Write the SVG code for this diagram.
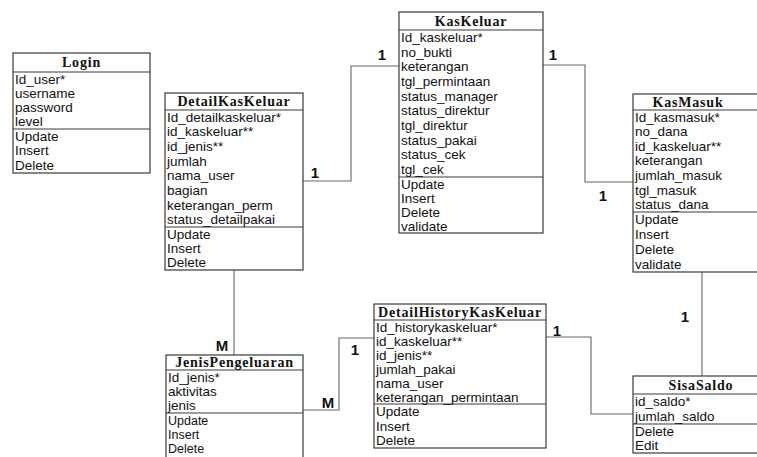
<svg xmlns="http://www.w3.org/2000/svg" width="757" height="457" viewBox="0 0 757 457">
<style>
.box{fill:#fff;stroke:#3a3a3a;stroke-width:1.2}
.sep{stroke:#3a3a3a;stroke-width:1.1}
.t{font-family:"Liberation Serif","Times New Roman",serif;font-weight:bold;font-size:14px;letter-spacing:0.8px;fill:#111;text-anchor:middle}
.a{font-family:"Liberation Sans",Arial,sans-serif;font-size:13.5px;fill:#111}
.s{font-size:12.5px}
.c{fill:none;stroke:#666;stroke-width:1.1}
.l{font-family:"Liberation Sans",Arial,sans-serif;font-size:15px;font-weight:bold;fill:#111;text-anchor:middle}
</style>
<rect width="757" height="457" fill="#fff"/>
<g id="connectors">
<polyline class="c" points="303,181 351,181 351,66 399,66"/>
<polyline class="c" points="543,65 585,65 585,182 633,182"/>
<polyline class="c" points="702,272 702,376"/>
<polyline class="c" points="546,337 591,337 591,414 633,414"/>
<polyline class="c" points="303,410 339,410 339,338 374,338"/>
<polyline class="c" points="234,270 234,355"/>
<text class="l" x="315" y="178">1</text>
<text class="l" x="382" y="60">1</text>
<text class="l" x="553" y="60">1</text>
<text class="l" x="603" y="201">1</text>
<text class="l" x="685" y="322">1</text>
<text class="l" x="557" y="336">1</text>
<text class="l" x="355" y="355">1</text>
<text class="l" x="328" y="408">M</text>
<text class="l" x="222" y="351">M</text>
</g>
<g id="Login">
<rect class="box" x="13" y="53" width="137" height="120"/>
<line class="sep" x1="13" y1="72" x2="150" y2="72"/>
<line class="sep" x1="13" y1="129" x2="150" y2="129"/>
<text class="t" x="81.5" y="67">Login</text>
<text class="a" x="15" y="84">Id_user*</text>
<text class="a" x="15" y="98">username</text>
<text class="a" x="15" y="112">password</text>
<text class="a" x="15" y="126">level</text>
<text class="a" x="15" y="141">Update</text>
<text class="a" x="15" y="155">Insert</text>
<text class="a" x="15" y="170">Delete</text>
</g>
<g id="DetailKasKeluar">
<rect class="box" x="165" y="93" width="138" height="177"/>
<line class="sep" x1="165" y1="110" x2="303" y2="110"/>
<line class="sep" x1="165" y1="227" x2="303" y2="227"/>
<text class="t" x="234" y="106">DetailKasKeluar</text>
<text class="a" x="167" y="122">Id_detailkaskeluar*</text>
<text class="a" x="167" y="136">id_kaskeluar**</text>
<text class="a" x="167" y="151">id_jenis**</text>
<text class="a" x="167" y="166">jumlah</text>
<text class="a" x="167" y="180">nama_user</text>
<text class="a" x="167" y="195">bagian</text>
<text class="a" x="167" y="210">keterangan_perm</text>
<text class="a" x="167" y="224">status_detailpakai</text>
<text class="a" x="167" y="239">Update</text>
<text class="a" x="167" y="253">Insert</text>
<text class="a" x="167" y="267">Delete</text>
</g>
<g id="KasKeluar">
<rect class="box" x="399" y="12" width="144" height="221"/>
<line class="sep" x1="399" y1="30" x2="543" y2="30"/>
<line class="sep" x1="399" y1="177" x2="543" y2="177"/>
<text class="t" x="471" y="25.5">KasKeluar</text>
<text class="a" x="401" y="42">Id_kaskeluar*</text>
<text class="a" x="401" y="57">no_bukti</text>
<text class="a" x="401" y="71">keterangan</text>
<text class="a" x="401" y="86">tgl_permintaan</text>
<text class="a" x="401" y="101">status_manager</text>
<text class="a" x="401" y="115">status_direktur</text>
<text class="a" x="401" y="130">tgl_direktur</text>
<text class="a" x="401" y="145">status_pakai</text>
<text class="a" x="401" y="159">status_cek</text>
<text class="a" x="401" y="174">tgl_cek</text>
<text class="a" x="401" y="188.5">Update</text>
<text class="a" x="401" y="202.5">Insert</text>
<text class="a" x="401" y="216.5">Delete</text>
<text class="a" x="401" y="230.5">validate</text>
</g>
<g id="KasMasuk">
<rect class="box" x="633" y="94" width="130" height="178"/>
<line class="sep" x1="633" y1="110" x2="763" y2="110"/>
<line class="sep" x1="633" y1="212" x2="763" y2="212"/>
<text class="t" x="688" y="106.5">KasMasuk</text>
<text class="a" x="635" y="122">Id_kasmasuk*</text>
<text class="a" x="635" y="136">no_dana</text>
<text class="a" x="635" y="151">id_kaskeluar**</text>
<text class="a" x="635" y="165">keterangan</text>
<text class="a" x="635" y="180">jumlah_masuk</text>
<text class="a" x="635" y="195">tgl_masuk</text>
<text class="a" x="635" y="209">status_dana</text>
<text class="a" x="635" y="224">Update</text>
<text class="a" x="635" y="239">Insert</text>
<text class="a" x="635" y="254">Delete</text>
<text class="a" x="635" y="269">validate</text>
</g>
<g id="DetailHistoryKasKeluar">
<rect class="box" x="374" y="304" width="172" height="144"/>
<line class="sep" x1="374" y1="320" x2="546" y2="320"/>
<line class="sep" x1="374" y1="404" x2="546" y2="404"/>
<text class="t" x="460" y="316.5">DetailHistoryKasKeluar</text>
<text class="a" x="376" y="331.5">Id_historykaskeluar*</text>
<text class="a" x="376" y="345.5">id_kaskeluar**</text>
<text class="a" x="376" y="359.5">id_jenis**</text>
<text class="a" x="376" y="373.5">jumlah_pakai</text>
<text class="a" x="376" y="387.5">nama_user</text>
<text class="a" x="376" y="401.5">keterangan_permintaan</text>
<text class="a" x="376" y="416">Update</text>
<text class="a" x="376" y="430.5">Insert</text>
<text class="a" x="376" y="445">Delete</text>
</g>
<g id="JenisPengeluaran">
<rect class="box" x="166" y="355" width="137" height="107"/>
<line class="sep" x1="166" y1="370" x2="303" y2="370"/>
<line class="sep" x1="166" y1="413" x2="303" y2="413"/>
<text class="t" x="234.5" y="367">JenisPengeluaran</text>
<text class="a" x="168" y="381.5">Id_jenis*</text>
<text class="a" x="168" y="395.5">aktivitas</text>
<text class="a" x="168" y="409.5">jenis</text>
<text class="a s" x="168" y="425">Update</text>
<text class="a s" x="168" y="439">Insert</text>
<text class="a s" x="168" y="453">Delete</text>
</g>
<g id="SisaSaldo">
<rect class="box" x="633" y="376" width="137" height="77"/>
<line class="sep" x1="633" y1="394" x2="770" y2="394"/>
<line class="sep" x1="633" y1="424" x2="770" y2="424"/>
<text class="t" x="701" y="389.5">SisaSaldo</text>
<text class="a" x="635" y="406">id_saldo*</text>
<text class="a" x="635" y="421">jumlah_saldo</text>
<text class="a" x="635" y="436">Delete</text>
<text class="a" x="635" y="450">Edit</text>
</g>
</svg>
